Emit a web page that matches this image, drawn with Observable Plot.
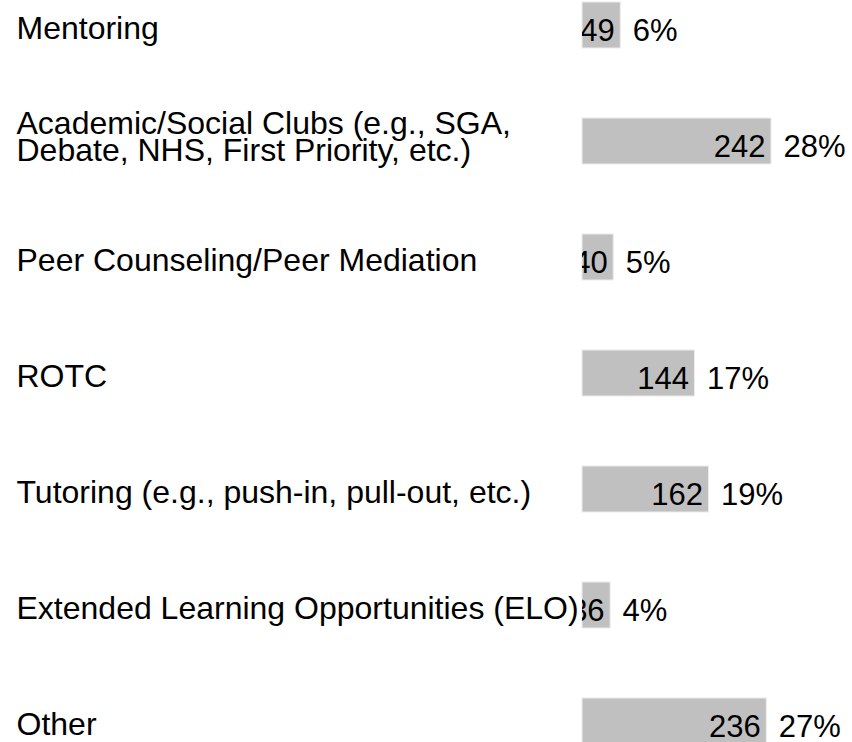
<!DOCTYPE html>
<html>
<head>
<meta charset="utf-8">
<script src="https://cdn.jsdelivr.net/npm/d3@7"></script>
<script src="https://cdn.jsdelivr.net/npm/@observablehq/plot@0.6"></script>
<style>
  html, body { margin: 0; padding: 0; background: #fff; overflow: hidden; }
</style>
</head>
<body>
<div id="chart"></div>
<script>
const categories = [
  "Mentoring",
  "Academic/Social Clubs",
  "Peer Counseling/Peer Mediation",
  "ROTC",
  "Tutoring",
  "Extended Learning Opportunities (ELO)",
  "Other"
];
const labels = [
  "Mentoring",
  "Academic/Social Clubs (e.g., SGA,\nDebate, NHS, First Priority, etc.)",
  "Peer Counseling/Peer Mediation",
  "ROTC",
  "Tutoring (e.g., push-in, pull-out, etc.)",
  "Extended Learning Opportunities (ELO)",
  "Other"
];
const counts = [49, 242, 40, 144, 162, 36, 236];
const percents = ["6%", "28%", "5%", "17%", "19%", "4%", "27%"];

const data = categories.map((c, i) => ({category: c, label: labels[i], count: counts[i], pct: percents[i]}));
const singleLine = data.filter(d => !d.label.includes("\n"));
const multiLine = data.filter(d => d.label.includes("\n"));

const chart = Plot.plot({
  width: 852,
  height: 742,
  marginLeft: 582,
  marginRight: 0,
  marginTop: 0,
  marginBottom: 0,
  style: {fontFamily: "'Liberation Sans', Arial, Helvetica, sans-serif", background: "#fff", color: "#000"},
  x: {domain: [0, 242], range: [582, 771], axis: null},
  y: {domain: categories, range: [-68, 814], padding: 0.6034, axis: null},
  marks: [
    Plot.barX(data, {x: "count", y: "category", fill: "#c0c0c0", stroke: "#ececec", strokeWidth: 1}),
    Plot.text(data, {x: "count", y: "category", text: d => String(d.count), textAnchor: "end", dx: -6, dy: 6, fontSize: 31, fill: "#000", clip: true}),
    Plot.text(data, {x: "count", y: "category", text: "pct", textAnchor: "start", dx: 12, dy: 6, fontSize: 31, fill: "#000"}),
    Plot.text(singleLine, {y: "category", text: "label", frameAnchor: "left", dx: -566, dy: 3, textAnchor: "start", fontSize: 32, fill: "#000"}),
    Plot.text(multiLine, {y: "category", text: "label", frameAnchor: "left", dx: -566, dy: -3, textAnchor: "start", fontSize: 32, lineHeight: 0.85, fill: "#000"})
  ]
});
document.getElementById("chart").append(chart);
</script>
</body>
</html>
